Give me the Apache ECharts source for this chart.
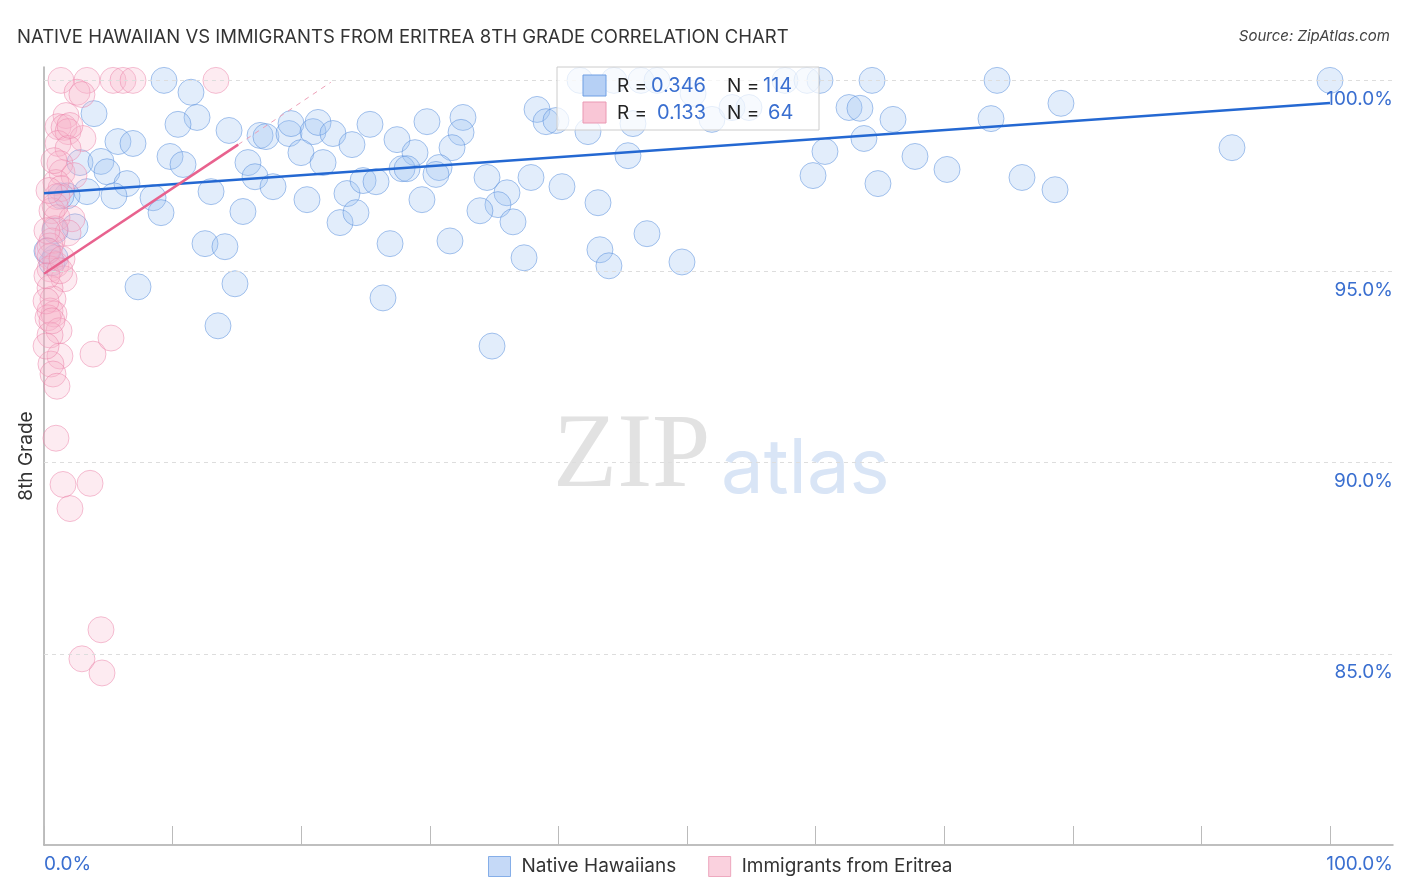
<!DOCTYPE html>
<html>
<head>
<meta charset="utf-8">
<script src="https://cdn.jsdelivr.net/npm/echarts@6/dist/echarts.min.js"></script>
<style>
html,body{margin:0;padding:0;background:#fff;}
#chart{width:1406px;height:892px;}
</style>
</head>
<body>
<div id="chart"></div>
<script>
// ---------- data ----------
const seriesNames = ['Native Hawaiians', 'Immigrants from Eritrea'];
const nativeHawaiians = [
 [9.33,100],[11.43,99.69],[3.89,99.13],[11.90,99.03],[10.42,98.85],[14.39,98.69],[5.75,98.40],[6.92,98.35],
 [9.80,98.01],[10.81,97.80],[2.80,97.85],[4.43,97.88],[4.90,97.61],[6.45,97.30],[3.34,97.09],[5.44,96.98],
 [1.79,96.98],[1.32,96.98],[2.41,96.17],[0.86,95.36],[7.31,94.60],[8.48,96.93],[9.10,96.54],[12.99,97.09],
 [15.47,96.57],[12.52,95.73],[14.07,95.65],[14.85,94.68],[13.53,93.58],[15.86,97.85],[16.41,97.48],[17.81,97.22],
 [16.80,98.56],[17.26,98.53],[19.05,98.61],[19.21,98.87],[20.92,98.66],[21.31,98.90],[22.47,98.61],[19.98,98.11],
 [21.70,97.85],[20.45,96.88],[23.02,96.28],[23.56,97.04],[23.95,98.32],[25.35,98.85],[27.45,98.45],[28.85,98.11],
 [29.78,98.92],[32.58,99.03],[32.43,98.64],[31.73,98.24],[27.84,97.69],[28.23,97.69],[30.72,97.72],[30.48,97.54],
 [24.81,97.38],[25.82,97.35],[24.26,96.54],[29.39,96.88],[26.91,95.73],[31.57,95.80],[26.36,94.31],[34.84,93.05],
 [34.45,97.46],[36.00,97.06],[35.30,96.75],[33.90,96.59],[36.47,96.30],[37.87,97.46],[40.28,97.22],[43.08,96.80],
 [37.33,95.36],[43.23,95.57],[43.93,95.15],[46.89,95.99],[49.61,95.25],[45.41,98.03],[38.34,99.24],[39.04,98.92],
 [39.81,98.95],[42.30,98.66],[45.80,98.87],[41.68,100],[44.32,100],[46.42,100],[47.67,100],[50.47,99.66],
 [51.94,98.98],[53.50,99.29],[54.82,99.29],[57.62,100],[59.33,100],[60.34,100],[62.60,99.29],[63.45,99.27],
 [64.39,100],[66.02,98.98],[63.76,98.48],[60.73,98.14],[59.80,97.51],[64.85,97.30],[67.73,98.01],[70.22,97.67],
 [74.11,100],[73.64,99.00],[76.05,97.46],[79.08,99.40],[78.62,97.14],[92.38,98.24],[100,100],[0.86,96.07],
 [0.62,95.23],[0.23,95.54]
];
const immigrantsEritrea = [
 [1.32,100],[3.34,100],[5.37,100],[6.14,100],[6.92,100],[13.37,100],[2.57,99.69],[2.95,99.63],
 [1.71,99.08],[1.09,98.79],[1.56,98.77],[1.87,98.66],[3.03,98.48],[1.09,98.35],[1.87,98.22],[1.24,97.82],
 [1.40,97.59],[2.33,97.51],[0.93,97.33],[1.32,97.17],[1.01,96.96],[0.62,96.59],[1.01,96.41],[2.18,96.38],
 [0.86,96.12],[1.87,96.01],[0.62,95.80],[0.47,95.67],[0.47,95.39],[0.93,95.18],[0.47,95.07],[1.56,94.81],
 [0.47,94.57],[0.70,94.28],[0.47,93.97],[0.78,93.89],[0.31,93.79],[1.17,93.45],[0.47,93.34],[1.24,92.79],
 [0.54,92.58],[0.70,92.32],[1.01,92.00],[3.81,92.84],[5.21,93.26],[0.93,90.64],[1.48,89.43],[3.58,89.46],
 [2.02,88.80],[4.43,85.63],[2.95,84.87],[4.51,84.50],[0.23,96.07],[0.31,95.54],[0.78,97.90],[2.02,98.82],
 [0.23,94.89],[0.16,94.23],[0.86,96.72],[0.39,97.12],[1.40,95.33],[0.62,93.71],[0.16,93.05],[1.24,95.02]
];
const trendBlue = [[0,97.05],[100,99.41]];
const trendPinkSolid = [[0,94.94],[15.1,98.32]];
const trendPinkDashed = [[15.1,98.32],[22.3,99.95]];
const yTickValues = [85, 90, 95, 100];
const yTickLabels = ['85.0%', '90.0%', '95.0%', '100.0%'];
const xTickValues = [0,10,20,30,40,50,60,70,80,90,100];
const xTickLabels = ['0.0%', '100.0%'];
const statR = ['0.346', '0.133'];
const statN = ['114', '64'];
const titleText = 'NATIVE HAWAIIAN VS IMMIGRANTS FROM ERITREA 8TH GRADE CORRELATION CHART';
const sourceText = 'Source: ZipAtlas.com';
const yAxisName = '8th Grade';

// ---------- styles ----------
const FONT = 'Inter, Roboto, "Noto Sans", sans-serif';
const BLUE_TXT = '#3a6fd0';
const blueFill = 'rgba(155,192,240,0.36)';
const blueBorder = 'rgba(80,138,218,0.62)';
const pinkFill = 'rgba(248,178,202,0.33)';
const pinkBorder = 'rgba(235,130,168,0.62)';

const chart = echarts.init(document.getElementById('chart'));

const statGraphic = [];
statGraphic.push({type:'rect', shape:{x:557,y:67,width:262,height:63}, style:{fill:'rgba(255,255,255,0.72)', stroke:'#cccccc', lineWidth:1}, z:100});
const rowY = [86, 113];
const sqFill = ['#b6d0f5', '#f9c6d6'];
const sqStroke = ['#6e9fe4', '#ea98b3'];
const rX = [651, 657];
const nX = [763, 768];
for (let i = 0; i < 2; i++) {
  statGraphic.push({type:'rect', shape:{x:583,y:rowY[i]-11,width:23,height:21}, style:{fill:sqFill[i], stroke:sqStroke[i], lineWidth:1}, z:101});
  statGraphic.push({type:'text', x:617, y:rowY[i], style:{text:'R = ', fill:'#222', font:'19px ' + FONT, textVerticalAlign:'middle'}, z:101});
  statGraphic.push({type:'text', x:rX[i], y:rowY[i], style:{text:statR[i], fill:BLUE_TXT, font:'20px ' + FONT, textVerticalAlign:'middle'}, z:101});
  statGraphic.push({type:'text', x:727, y:rowY[i], style:{text:'N = ', fill:'#222', font:'19px ' + FONT, textVerticalAlign:'middle'}, z:101});
  statGraphic.push({type:'text', x:nX[i], y:rowY[i], style:{text:statN[i], fill:BLUE_TXT, font:'20px ' + FONT, textVerticalAlign:'middle'}, z:101});
}

const option = {
  backgroundColor: '#ffffff',
  animation: false,
  title: [
    {text: titleText, left: 12, top: 23, textStyle:{fontFamily: FONT, fontSize: 18.5, fontWeight: 'normal', color: '#333'}},
    {text: sourceText, right: 11, top: 24, textStyle:{fontFamily: FONT, fontSize: 15, fontWeight: 'normal', fontStyle: 'italic', color: '#444'}}
  ],
  grid: {left: 44, right: 13, top: 67, bottom: 47, containLabel: false},
  xAxis: {
    type: 'value', min: 0, max: 104.9,
    axisLine: {show: true, lineStyle: {color: '#aaaaaa', width: 1.5}},
    axisTick: {show: true, inside: true, length: 19, customValues: xTickValues, lineStyle: {color: '#bbbbbb'}},
    axisLabel: {show: false},
    splitLine: {show: false}
  },
  yAxis: {
    type: 'value', min: 80, max: 100.35,
    name: yAxisName, nameLocation: 'middle', nameGap: 8, nameRotate: 90,
    nameTextStyle: {fontFamily: FONT, fontSize: 19, color: '#333'},
    axisLine: {show: true, onZero: false, lineStyle: {color: '#aaaaaa', width: 1.5}},
    axisTick: {show: false},
    axisLabel: {show: false},
    splitLine: {show: false}
  },
  legend: {
    left: 483, top: 851, itemWidth: 22, itemHeight: 20, itemGap: 32, icon: 'rect',
    textStyle: {fontFamily: FONT, fontSize: 19, color: '#333', padding: [0,0,0,6]},
    data: [
      {name: seriesNames[0], itemStyle: {color: '#b6d0f5', borderColor: '#6e9fe4', borderWidth: 1}},
      {name: seriesNames[1], itemStyle: {color: '#f9c6d6', borderColor: '#ea98b3', borderWidth: 1}}
    ]
  },
  graphic: [
    {type:'text', x:553, y:511, style:{text:'ZIP', fill:'#e2e2e2', font:'105px "Liberation Serif", "DejaVu Serif", serif', textVerticalAlign:'bottom'}, z:-10, silent:true},
    {type:'text', x:721, y:508, style:{text:'atlas', fill:'#d9e5f6', font:'76px ' + FONT, textVerticalAlign:'bottom'}, z:-10, silent:true},
    {type:'text', x:44, y:864, style:{text:xTickLabels[0], fill:BLUE_TXT, font:'19px ' + FONT, textAlign:'left', textVerticalAlign:'middle'}},
    {type:'text', x:1393, y:864, style:{text:xTickLabels[1], fill:BLUE_TXT, font:'19px ' + FONT, textAlign:'right', textVerticalAlign:'middle'}},
    ...statGraphic
  ],
  series: [
    {
      name: seriesNames[0], type: 'scatter', data: nativeHawaiians, symbolSize: 26, z: 3,
      itemStyle: {color: blueFill, borderColor: blueBorder, borderWidth: 1},
      markLine: {
        silent: true, symbol: 'none', animation: false,
        lineStyle: {type: [4,4], color: '#dddddd', width: 1},
        label: {show: true, position: 'insideEndBottom', distance: [0, 9], color: BLUE_TXT, fontFamily: FONT, fontSize: 19,
                formatter: p => yTickLabels[yTickValues.indexOf(p.value)]},
        data: yTickValues.map(v => ({yAxis: v}))
      }
    },
    {
      name: seriesNames[1], type: 'scatter', data: immigrantsEritrea, symbolSize: 26, z: 3,
      itemStyle: {color: pinkFill, borderColor: pinkBorder, borderWidth: 1}
    },
    {
      name: 'trendBlue', type: 'line', data: trendBlue, symbol: 'none', z: 5,
      lineStyle: {color: '#2468d2', width: 2.5}
    },
    {
      name: 'trendPink', type: 'line', data: trendPinkSolid, symbol: 'none', z: 5,
      lineStyle: {color: '#e8628e', width: 2.5}
    },
    {
      name: 'trendPinkDash', type: 'line', data: trendPinkDashed, symbol: 'none', z: 5,
      lineStyle: {color: '#eea0b8', width: 1, type: [5,5]}
    }
  ]
};
chart.setOption(option);
</script>
</body>
</html>
